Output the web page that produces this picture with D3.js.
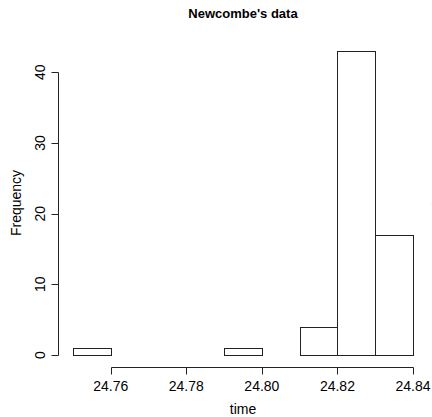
<!DOCTYPE html>
<html>
<head>
<meta charset="utf-8">
<script src="https://cdn.jsdelivr.net/npm/d3@7.9.0/dist/d3.min.js"></script>
<style>
  body { margin: 0; background: #fff; }
  svg { display: block; font-family: "Liberation Sans", Arial, sans-serif; }
</style>
</head>
<body>
<svg id="chart" width="432" height="417"></svg>
<script>
// histogram of Newcombe's light timing data
const breaks = [24.75, 24.76, 24.77, 24.78, 24.79, 24.80, 24.81, 24.82, 24.83, 24.84];
const counts = [1, 0, 0, 0, 1, 0, 4, 43, 17];
const xTicks = [24.76, 24.78, 24.80, 24.82, 24.84];
const yTicks = [0, 10, 20, 30, 40];

const svg = d3.select('#chart');
const ink = '#222';

const x = d3.scaleLinear().domain([24.75, 24.84]).range([73, 413]);
const y = d3.scaleLinear().domain([0, 40]).range([355, 72.3]);

const px = v => Math.round(v) + 0.5;

// bars
const bins = counts.map((c, i) => ({ x0: breaks[i], x1: breaks[i + 1], n: c }));
svg.append('g').selectAll('rect')
  .data(bins)
  .join('rect')
  .attr('x', d => px(x(d.x0)))
  .attr('y', d => px(y(d.n)))
  .attr('width', d => Math.round(x(d.x1)) - Math.round(x(d.x0)))
  .attr('height', d => Math.round(y(0)) - Math.round(y(d.n)))
  .attr('fill', '#fff')
  .attr('stroke', ink)
  .attr('stroke-width', 1);

// x axis
const xg = svg.append('g');
xg.append('line')
  .attr('x1', px(x(xTicks[0]))).attr('x2', px(x(xTicks[xTicks.length - 1])))
  .attr('y1', 367.5).attr('y2', 367.5)
  .attr('stroke', ink);
xTicks.forEach(t => {
  xg.append('line')
    .attr('x1', px(x(t))).attr('x2', px(x(t)))
    .attr('y1', 367.5).attr('y2', 374.5)
    .attr('stroke', ink);
  xg.append('text')
    .attr('x', x(t)).attr('y', 390.5)
    .attr('text-anchor', 'middle')
    .attr('font-size', 14)
    .text(t.toFixed(2));
});

// y axis
const yg = svg.append('g');
yg.append('line')
  .attr('x1', 58.5).attr('x2', 58.5)
  .attr('y1', px(y(yTicks[0]))).attr('y2', px(y(yTicks[yTicks.length - 1])))
  .attr('stroke', ink);
yTicks.forEach(t => {
  yg.append('line')
    .attr('x1', 51.5).attr('x2', 58.5)
    .attr('y1', px(y(t))).attr('y2', px(y(t)))
    .attr('stroke', ink);
  yg.append('text')
    .attr('transform', `translate(45,${y(t)}) rotate(-90)`)
    .attr('text-anchor', 'middle')
    .attr('font-size', 14)
    .text(t);
});

// labels
svg.append('text')
  .attr('x', 243).attr('y', 17.5)
  .attr('text-anchor', 'middle')
  .attr('font-size', 13)
  .attr('font-weight', 'bold')
  .text("Newcombe's data");

svg.append('text')
  .attr('x', 243).attr('y', 413.5)
  .attr('text-anchor', 'middle')
  .attr('font-size', 14)
  .text('time');

svg.append('text')
  .attr('transform', 'translate(21,203) rotate(-90)')
  .attr('text-anchor', 'middle')
  .attr('font-size', 14)
  .text('Frequency');

// clipped label bleeding in from a neighbouring panel
svg.append('text')
  .attr('transform', 'translate(440,198) rotate(-90)')
  .attr('text-anchor', 'middle')
  .attr('font-size', 11)
  .attr('fill', '#444')
  .text('time');
</script>
</body>
</html>
